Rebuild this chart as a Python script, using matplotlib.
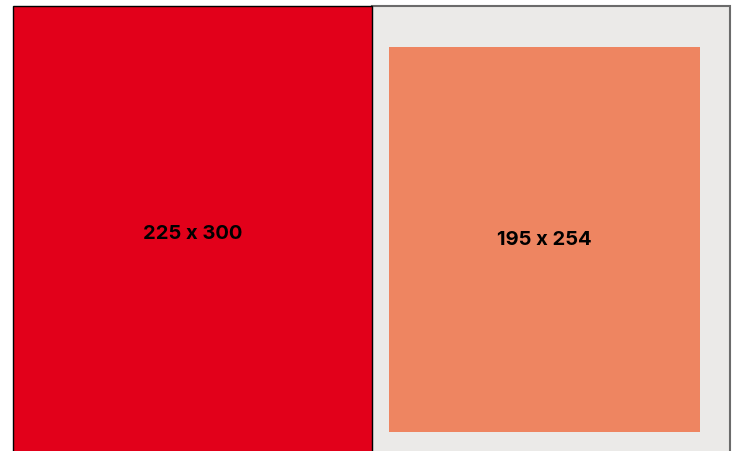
import matplotlib.pyplot as plt
from matplotlib.patches import Rectangle

# sizes in mm: outer sheet and inner print area
outer_size = (225, 300)
inner_size = (195, 254)
labels = ["225 x 300", "195 x 254"]

red = '#e2001a'
grey = '#ebeae8'
orange = '#ee8561'

fig = plt.figure(figsize=(7.39, 4.52), dpi=100)
ax = fig.add_axes([0, 0, 1, 1])
ax.set_xlim(-8.47, 455.4)
ax.set_ylim(293.5, -4.62)
ax.axis('off')

w, h = outer_size
# left: full size sheet
ax.add_patch(Rectangle((0, 0), w, h, facecolor=red, edgecolor='black', linewidth=1.0, zorder=2))
ax.text(w / 2, h / 2, labels[0], ha='center', va='center', fontsize=14.5,
        fontweight='bold', family='Inter', color='black', zorder=5)

# right: same sheet with inner area
ax.add_patch(Rectangle((w, 0), w, h, facecolor=grey, edgecolor='#6b6b6b', linewidth=1.5, zorder=1))
iw, ih = inner_size
ix = w + 10.8
iy = 26.8
ax.add_patch(Rectangle((ix, iy), iw, ih, facecolor=orange, edgecolor='none', zorder=3))
ax.text(ix + iw / 2, iy + ih / 2, labels[1], ha='center', va='center', fontsize=14.5,
        fontweight='bold', family='Inter', color='black', zorder=5)

fig.savefig('out.png', dpi=100)
